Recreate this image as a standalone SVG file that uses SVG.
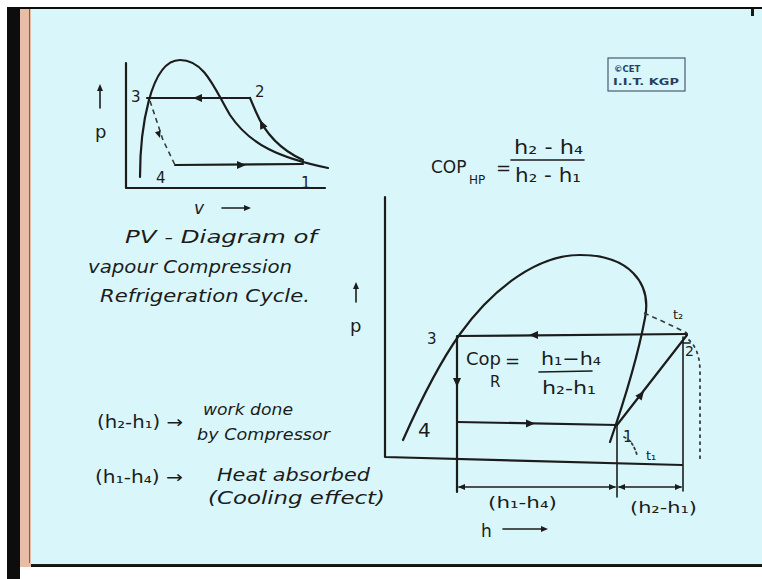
<svg xmlns="http://www.w3.org/2000/svg" xmlns:xlink="http://www.w3.org/1999/xlink" width="762" height="579" viewBox="0 0 762 579">
<defs>
<path id="ah" d="M0,0 L-9,-4 L-9,4 Z"/>
<path id="ahs" d="M0,0 L-7,-3 L-7,3 Z"/>
</defs>
<style>
.ln{fill:none;stroke:#1c1c1c;stroke-width:2.2;stroke-linecap:round;stroke-linejoin:round}
.thin{fill:none;stroke:#1c1c1c;stroke-width:1.6;stroke-linecap:round}
.dash{fill:none;stroke:#3a3a3a;stroke-width:1.6;stroke-dasharray:5 4}
.dot{fill:none;stroke:#3a3a3a;stroke-width:1.8;stroke-dasharray:2 5;stroke-linecap:round}
.arr{fill:#1c1c1c}
.t{font-family:"DejaVu Sans",sans-serif;fill:#1c1c1c}
.hw{font-family:"DejaVu Sans",sans-serif;font-style:italic;fill:#1c1c1c}
.cet{font-family:"DejaVu Sans",sans-serif;font-weight:bold;fill:#2a3f60;font-size:8.5px}
</style>
<g id="background">
<rect x="0" y="0" width="762" height="579" fill="#ffffff"/>
<rect x="7" y="7" width="755" height="560" fill="#0d0d0d"/>
<rect x="20" y="9" width="11" height="558" fill="#e6bda6"/>
<line x1="29.5" y1="9" x2="29.5" y2="563" stroke="#8a5a40" stroke-width="1"/>
<rect x="31" y="9" width="731" height="555" fill="#d9f7fa"/>
<line x1="31" y1="565" x2="762" y2="565" stroke="#1a1a1a" stroke-width="2"/>
<rect x="0" y="567" width="762" height="12" fill="#ffffff"/>
<rect x="7" y="567" width="13" height="12" fill="#0d0d0d"/>
<rect x="751" y="9" width="3" height="7" fill="#1a1a1a"/>
</g>
<g id="cet-badge">
<rect x="608" y="58" width="77" height="33" fill="none" stroke="#4a5a70" stroke-width="1.2"/>
<text class="cet" x="614" y="72">©CET</text>
<text class="cet" x="613" y="85" textLength="66" lengthAdjust="spacingAndGlyphs">I.I.T. KGP</text>
</g>
<g id="pv-diagram">
<g id="pv-axes">
<polyline class="ln" points="126,63 126,188 325,188"/>
<line class="thin" x1="100" y1="108" x2="100" y2="90"/>
<use href="#ahs" class="arr" transform="translate(100,84) rotate(-90)"/>
<text class="t" x="95" y="138" font-size="18">p</text>
<text class="hw" x="194" y="214" font-size="17">v</text>
<line class="thin" x1="222" y1="208" x2="244" y2="208"/>
<use href="#ahs" class="arr" transform="translate(251,208)"/>
</g>
<path id="pv-dome" class="ln" d="M140,177 C140,130 150,60 180,60 C205,60 215,90 230,115 C250,145 280,158 328,168"/>
<g id="pv-state-3"><text class="t" x="131" y="102" font-size="15">3</text></g>
<g id="pv-state-2"><text class="t" x="255" y="97" font-size="15">2</text></g>
<g id="pv-state-4"><text class="t" x="156" y="183" font-size="15">4</text></g>
<g id="pv-state-1"><text class="t" x="301" y="188" font-size="15">1</text></g>
</g>
<g id="pv-connectors">
<line class="ln" x1="147" y1="98" x2="250" y2="98"/>
<use href="#ah" class="arr" transform="translate(193,98) rotate(180)"/>
<path class="ln" d="M250,98 L256,112 Q270,145 303,160"/>
<use href="#ah" class="arr" transform="translate(260,120) rotate(-115)"/>
<line class="ln" x1="175" y1="165" x2="303" y2="164"/>
<use href="#ah" class="arr" transform="translate(246,165)"/>
<path class="dash" d="M150,101 L163,140 L175,165"/>
<use href="#ahs" class="arr" transform="translate(160,138) rotate(72)"/>
</g>
<g id="pv-caption">
<text class="hw" x="125" y="243" font-size="17" textLength="192" lengthAdjust="spacingAndGlyphs">PV - Diagram of</text>
<text class="hw" x="88" y="273" font-size="17" textLength="204" lengthAdjust="spacingAndGlyphs">vapour Compression</text>
<text class="hw" x="100" y="302" font-size="17" textLength="210" lengthAdjust="spacingAndGlyphs">Refrigeration Cycle.</text>
</g>
<g id="cop-hp">
<text class="t" x="431" y="173" font-size="17">COP</text>
<text class="t" x="469" y="184" font-size="12">HP</text>
<text class="t" x="496" y="174" font-size="18">=</text>
<text class="t" x="514" y="154" font-size="19" textLength="69" lengthAdjust="spacingAndGlyphs">h₂ - h₄</text>
<line class="thin" x1="511" y1="160" x2="584" y2="160"/>
<text class="t" x="515" y="182" font-size="19" textLength="66" lengthAdjust="spacingAndGlyphs">h₂ - h₁</text>
</g>
<g id="ph-diagram">
<g id="ph-axes">
<polyline class="ln" points="385,197 385,457 682,465"/>
<line class="thin" x1="356" y1="302" x2="356" y2="288"/>
<use href="#ahs" class="arr" transform="translate(356,282) rotate(-90)"/>
<text class="t" x="350" y="332" font-size="18">p</text>
<text class="t" x="481" y="537" font-size="17">h</text>
<line class="thin" x1="503" y1="529" x2="541" y2="529"/>
<use href="#ahs" class="arr" transform="translate(548,529)"/>
</g>
<path id="ph-dome" class="ln" d="M403,440 C423,395 440,362 460,334 C495,285 540,255 580,255 C628,255 652,282 645,318 C639,350 628,390 610,442"/>
<g id="ph-state-3"><text class="t" x="427" y="344" font-size="15">3</text></g>
<g id="ph-state-4"><text class="t" x="418" y="437" font-size="20">4</text></g>
<g id="ph-state-1"><text class="t" x="623" y="442" font-size="15">1</text></g>
<g id="ph-state-2"><text class="t" x="685" y="356" font-size="14">2</text><line class="thin" x1="683" y1="343" x2="690" y2="343"/></g>
<g id="ph-t2"><text class="t" x="673" y="319" font-size="13">t₂</text></g>
<g id="ph-t1"><text class="t" x="646" y="460" font-size="13">t₁</text></g>
<g id="cop-r">
<text class="t" x="466" y="365" font-size="18">Cop</text>
<text class="t" x="490" y="387" font-size="15">R</text>
<text class="t" x="505" y="367" font-size="18">=</text>
<text class="t" x="541" y="365" font-size="18" textLength="60" lengthAdjust="spacingAndGlyphs">h₁−h₄</text>
<line class="thin" x1="539" y1="372" x2="592" y2="371"/>
<text class="t" x="542" y="394" font-size="18" textLength="54" lengthAdjust="spacingAndGlyphs">h₂-h₁</text>
</g>
</g>
<g id="ph-connectors">
<line class="ln" x1="458" y1="336" x2="687" y2="334"/>
<use href="#ah" class="arr" transform="translate(529,335) rotate(180)"/>
<line class="ln" x1="457" y1="336" x2="457" y2="492"/>
<use href="#ah" class="arr" transform="translate(457,387) rotate(90)"/>
<line class="ln" x1="457" y1="422" x2="617" y2="425"/>
<use href="#ah" class="arr" transform="translate(535,423.5)"/>
<line class="ln" x1="617" y1="425" x2="687" y2="335"/>
<use href="#ah" class="arr" transform="translate(644,391) rotate(-52)"/>
<line class="thin" x1="617" y1="425" x2="617" y2="497"/>
<line class="thin" x1="683" y1="337" x2="683" y2="491"/>
<path class="dash" d="M644,313 L662,321 L687,333"/>
<path class="dot" d="M689,340 Q700,350 700,372 L700,460"/>
<path class="dot" d="M624,437 Q633,441 637,455" style="stroke-dasharray:2 3"/>
<line class="thin" x1="459" y1="487" x2="615" y2="487"/>
<use href="#ahs" class="arr" transform="translate(458,487) rotate(180)"/>
<use href="#ahs" class="arr" transform="translate(616,487)"/>
<line class="thin" x1="619" y1="487" x2="681" y2="487"/>
<use href="#ahs" class="arr" transform="translate(618,487) rotate(180)"/>
<use href="#ahs" class="arr" transform="translate(682,487)"/>
<text class="t" x="488" y="508" font-size="16" textLength="69" lengthAdjust="spacingAndGlyphs">(h₁-h₄)</text>
<text class="t" x="630" y="513" font-size="16" textLength="67" lengthAdjust="spacingAndGlyphs">(h₂-h₁)</text>
</g>
<g id="notes">
<text class="t" x="97" y="428" font-size="17" textLength="86" lengthAdjust="spacingAndGlyphs">(h₂-h₁) →</text>
<text class="hw" x="203" y="415" font-size="15" textLength="90" lengthAdjust="spacingAndGlyphs">work done</text>
<text class="hw" x="197" y="440" font-size="15" textLength="133" lengthAdjust="spacingAndGlyphs">by Compressor</text>
<text class="t" x="95" y="483" font-size="17" textLength="88" lengthAdjust="spacingAndGlyphs">(h₁-h₄) →</text>
<text class="hw" x="217" y="481" font-size="17" textLength="153" lengthAdjust="spacingAndGlyphs">Heat absorbed</text>
<text class="hw" x="208" y="504" font-size="17" textLength="177" lengthAdjust="spacingAndGlyphs">(Cooling effect)</text>
</g>
</svg>
